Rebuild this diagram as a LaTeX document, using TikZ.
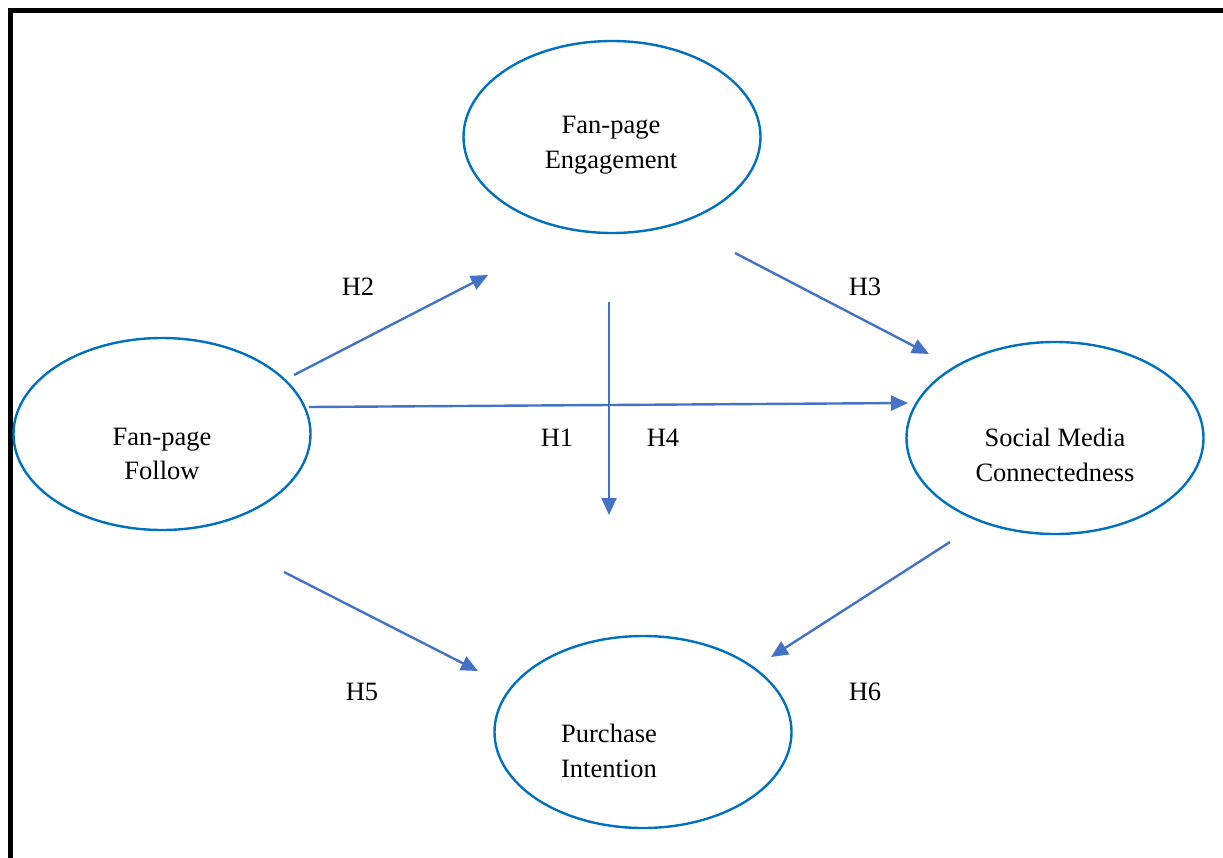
\documentclass[tikz,border=0pt]{standalone}
\usepackage{fontspec}
\setmainfont{Liberation Serif}
\usetikzlibrary{arrows.meta,shapes.geometric}
\definecolor{ellblue}{HTML}{0070C0}
\definecolor{arrblue}{HTML}{4472C4}
\begin{document}
\begin{tikzpicture}[x=1pt,y=-1pt,
  construct/.style={draw=ellblue,line width=2.4pt,ellipse,minimum width=297pt,minimum height=192pt,inner sep=0pt},
  txt/.style={font=\fontsize{26.5}{34.5}\selectfont,align=center,inner sep=0pt},
  hyp/.style={font=\fontsize{26.5}{30}\selectfont,inner sep=0pt},
  link/.style={draw=arrblue,line width=2.4pt,-{Triangle[length=17pt,width=15pt]}}]
\useasboundingbox (0,0) rectangle (1223,857);
\draw[line width=5pt,line cap=rect] (10,870) -- (10,10) -- (1240,10);
% constructs
\node[construct] (eng) at (612,137) {};
\node[construct] (fol) at (162,434) {};
\node[construct] (smc) at (1055,438) {};
\node[construct] (pur) at (643,732) {};
\node[txt] (engt) at (611,145) {Fan-page\\Engagement};
\node[txt] (folt) at (162,454) {Fan-page\\Follow};
\node[txt] (smct) at (1055,455) {Social Media\\Connectedness};
\node[txt] (purt) at (609,751) {Purchase\\Intention};
% arrow endpoints
\coordinate (h2s) at (294,375); \coordinate (h2e) at (488,275);
\coordinate (h1s) at (309,407); \coordinate (h1e) at (908,403);
\coordinate (h4s) at (609,302); \coordinate (h4e) at (609,515);
\coordinate (h3s) at (735,253); \coordinate (h3e) at (929,354);
\coordinate (h5s) at (284,572); \coordinate (h5e) at (478,671);
\coordinate (h6s) at (950,542); \coordinate (h6e) at (771,657);
\draw[link] (h2s) -- (h2e);
\draw[link] (h1s) -- (h1e);
\draw[link] (h4s) -- (h4e);
\draw[link] (h3s) -- (h3e);
\draw[link] (h5s) -- (h5e);
\draw[link] (h6s) -- (h6e);
% labels
\node[hyp] (lh2) at (358,287) {H2};
\node[hyp] (lh3) at (865,287) {H3};
\node[hyp] (lh1) at (557,438) {H1};
\node[hyp] (lh4) at (663,438) {H4};
\node[hyp] (lh5) at (362,692) {H5};
\node[hyp] (lh6) at (865,692) {H6};
\end{tikzpicture}
\end{document}
